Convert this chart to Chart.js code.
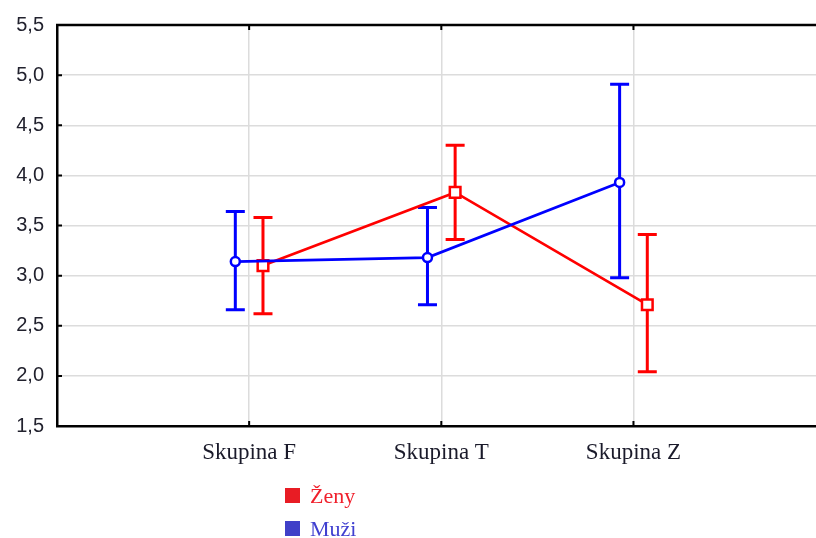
<!DOCTYPE html>
<html>
<head>
<meta charset="utf-8">
<script src="https://cdn.jsdelivr.net/npm/chart.js@4"></script>
<style>
	body { margin: 0; background: #fff; overflow: hidden; }
	#wrap { position: relative; width: 816px; height: 538px; overflow: hidden; }
	.legend { position: absolute; left: 285px; top: 479px; font-family: "Liberation Serif", serif; font-size: 22px; }
	.legend div { height: 33px; line-height: 22px; display: flex; align-items: center; }
	.legend span.box { display: inline-block; width: 15px; height: 15px; margin-right: 10px; }
</style>
</head>
<body>
<div id="wrap">
	<canvas id="chart"></canvas>
	<div class="legend">
		<div style="color:#f0202c"><span class="box" style="background:#e81c24"></span>Ženy</div>
		<div style="color:#4040d0"><span class="box" style="background:#4040c8"></span>Muži</div>
	</div>
</div>
<script>
// groups on the x axis
const categories = [`Skupina F`, `Skupina T`, `Skupina Z`];

// means and interval bounds
const zenyMean = [3.10, 3.83, 2.71];
const zenyLow = [2.62, 3.36, 2.04];
const zenyHigh = [3.58, 4.30, 3.41];

const muziMean = [3.14, 3.18, 3.93];
const muziLow = [2.66, 2.71, 2.98];
const muziHigh = [3.64, 3.68, 4.91];

const yTicks = [1.5, 2.0, 2.5, 3.0, 3.5, 4.0, 4.5, 5.0, 5.5];

const RED = `#ff0000`;
const BLUE = `#0000ff`;
const shift = 0.072; // small side-by-side offset of the two series

const toPoints = (means, dx) => means.map((v, i) => ({x: i + 1 + dx, y: v}));

// error bars + inward tick marks + top frame line
const errorBars = {
	id: `errorBars`,
	beforeDatasetsDraw(chart) {
		const {ctx, scales: {x, y}} = chart;
		const sets = [
			{low: muziLow, high: muziHigh, dx: -shift, color: BLUE},
			{low: zenyLow, high: zenyHigh, dx: shift, color: RED}
		];
		ctx.save();
		ctx.lineWidth = 3;
		sets.forEach(s => {
			ctx.strokeStyle = s.color;
			s.low.forEach((lo, i) => {
				const px = x.getPixelForValue(i + 1 + s.dx);
				const pLo = y.getPixelForValue(lo);
				const pHi = y.getPixelForValue(s.high[i]);
				ctx.beginPath();
				ctx.moveTo(px, pLo); ctx.lineTo(px, pHi);
				ctx.moveTo(px - 9.5, pLo); ctx.lineTo(px + 9.5, pLo);
				ctx.moveTo(px - 9.5, pHi); ctx.lineTo(px + 9.5, pHi);
				ctx.stroke();
			});
		});
		ctx.restore();
	},
	afterDraw(chart) {
		const {ctx, chartArea: a, scales: {x, y}} = chart;
		ctx.save();
		ctx.strokeStyle = `#000`;
		ctx.lineWidth = 2.5;
		ctx.beginPath();
		ctx.moveTo(a.left - 1, a.top); ctx.lineTo(chart.width, a.top);
		ctx.stroke();
		ctx.lineWidth = 2;
		ctx.beginPath();
		yTicks.forEach(t => {
			const py = y.getPixelForValue(t);
			ctx.moveTo(a.left, py); ctx.lineTo(a.left + 5, py);
		});
		categories.forEach((c, i) => {
			const px = x.getPixelForValue(i + 1);
			ctx.moveTo(px, a.top); ctx.lineTo(px, a.top + 5);
			ctx.moveTo(px, a.bottom); ctx.lineTo(px, a.bottom - 5);
		});
		ctx.stroke();
		ctx.restore();
	}
};

new Chart(document.getElementById(`chart`), {
	type: `line`,
	data: {
		datasets: [
			{
				label: `Muži`,
				data: toPoints(muziMean, -shift),
				borderColor: BLUE,
				backgroundColor: `#fff`,
				borderWidth: 2.7,
				pointStyle: `circle`,
				pointRadius: 4.5,
				pointBorderWidth: 2.5,
				pointBackgroundColor: `#fff`,
				pointBorderColor: BLUE
			},
			{
				label: `Ženy`,
				data: toPoints(zenyMean, shift),
				borderColor: RED,
				backgroundColor: `#fff`,
				borderWidth: 2.7,
				pointStyle: `rect`,
				pointRadius: 7.5,
				pointBorderWidth: 2.5,
				pointBackgroundColor: `#fff`,
				pointBorderColor: RED
			}
		]
	},
	options: {
		responsive: true,
		maintainAspectRatio: false,
		animation: false,
		layout: {autoPadding: false, padding: {top: 24, right: 0, left: 0, bottom: 0}},
		plugins: {
			legend: {display: false},
			tooltip: {enabled: false}
		},
		scales: {
			x: {
				type: `linear`,
				min: 0,
				max: 3.95,
				afterBuildTicks: scale => { scale.ticks = categories.map((c, i) => ({value: i + 1})); },
				afterFit: scale => { scale.height = 112; },
				ticks: {
					callback: v => categories[Math.round(v) - 1],
					font: {family: `"Liberation Serif", serif`, size: 23},
					color: `#1a1a2a`,
					padding: 13,
					maxRotation: 0
				},
				grid: {color: `#dcdcdc`, lineWidth: 1.5, drawTicks: false},
				border: {color: `#000`, width: 2.5}
			},
			y: {
				min: 1.5,
				max: 5.5,
				afterBuildTicks: scale => { scale.ticks = yTicks.map(v => ({value: v})); },
				afterFit: scale => { scale.width = 57; },
				ticks: {
					callback: v => v.toFixed(1).replace(`.`, `,`),
					font: {family: `"Liberation Sans", Arial, sans-serif`, size: 20},
					color: `#22222e`,
					padding: 13
				},
				grid: {color: `#dcdcdc`, lineWidth: 1.5, drawTicks: false},
				border: {color: `#000`, width: 2.5}
			}
		}
	},
	plugins: [errorBars]
});
</script>
</body>
</html>
